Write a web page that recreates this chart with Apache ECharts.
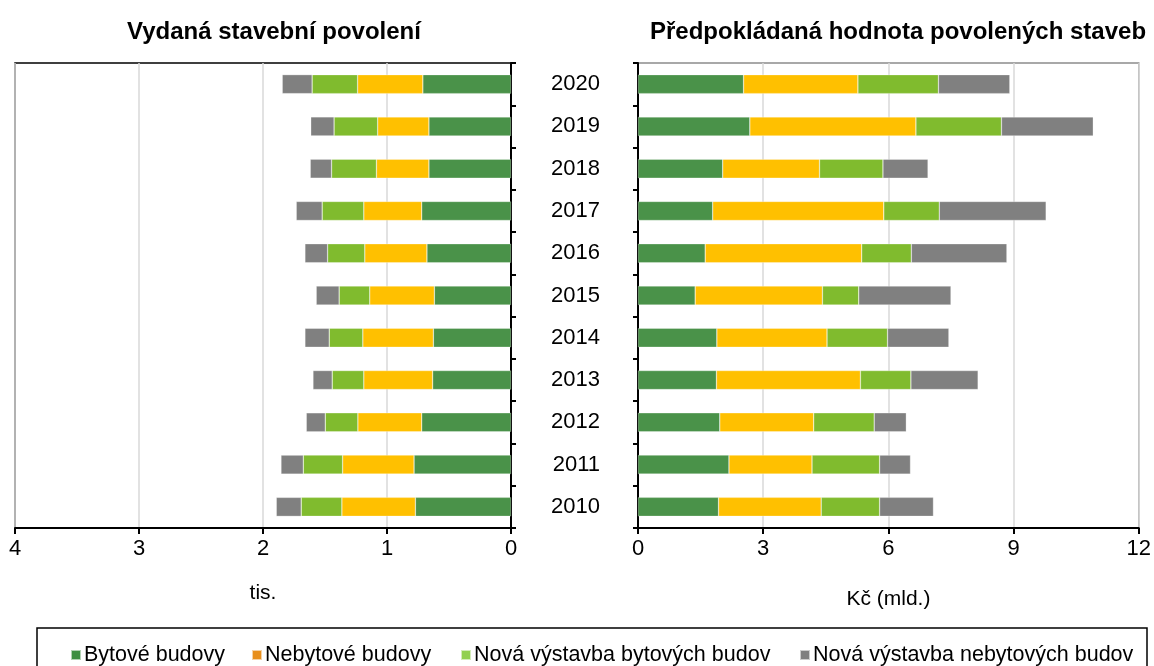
<!DOCTYPE html>
<html>
<head>
<meta charset="utf-8">
<script src="https://cdn.jsdelivr.net/npm/echarts@6/dist/echarts.min.js"></script>
<style>
  html, body { margin: 0; padding: 0; background: #fff; }
  #chart { width: 1154px; height: 666px; }
</style>
</head>
<body>
<div id="chart"></div>
<script>
// roky 2010..2020 (zdola nahoru)
const years = ['2010', '2011', '2012', '2013', '2014', '2015', '2016', '2017', '2018', '2019', '2020']
const seriesNames = ['Bytové budovy', 'Nebytové budovy', 'Nová výstavba bytových budov', 'Nová výstavba nebytových budov']

// vydaná stavební povolení (tis.)
const bytovePovoleni = [0.771, 0.782, 0.720, 0.632, 0.626, 0.618, 0.678, 0.720, 0.662, 0.662, 0.711]
const nebytovePovoleni = [0.593, 0.576, 0.515, 0.555, 0.569, 0.521, 0.501, 0.467, 0.423, 0.413, 0.526]
const novaBytovaPovoleni = [0.328, 0.317, 0.263, 0.255, 0.271, 0.247, 0.300, 0.336, 0.362, 0.352, 0.367]
const novaNebytovaPovoleni = [0.201, 0.180, 0.153, 0.155, 0.196, 0.185, 0.183, 0.209, 0.172, 0.188, 0.241]

// předpokládaná hodnota (Kč mld.)
const bytoveHodnota = [1.93, 2.18, 1.96, 1.88, 1.89, 1.37, 1.61, 1.79, 2.03, 2.68, 2.53]
const nebytoveHodnota = [2.46, 1.99, 2.25, 3.45, 2.64, 3.05, 3.75, 4.10, 2.32, 3.98, 2.74]
const novaBytovaHodnota = [1.40, 1.62, 1.45, 1.21, 1.45, 0.87, 1.19, 1.33, 1.52, 2.05, 1.93]
const novaNebytovaHodnota = [1.29, 0.74, 0.77, 1.61, 1.47, 2.21, 2.29, 2.56, 1.08, 2.20, 1.71]

const leftTicks = [0, 4, 1]   // min, max, interval
const rightTicks = [0, 12, 3]

const barColors = ['#4a9249', '#ffc000', '#80bb2e', '#808080']
const legendColors = ['#3f8f42', '#e88f1c', '#92d050', '#808080']
const legendLeft = [65, 246, 455, 794]
const font = 'Liberation Sans, Arial, sans-serif'

let chartInstance = echarts.init(document.getElementById('chart'))

let makeBars = (data, idx, name) => ({
  name: name,
  type: 'bar',
  stack: 'panel' + idx,
  xAxisIndex: idx,
  yAxisIndex: idx,
  barWidth: 19,
  itemStyle: { color: barColors[seriesNames.indexOf(name)], borderColor: 'rgba(255,255,255,0.6)', borderWidth: 0.5 },
  emphasis: { disabled: true },
  data: data
})

const option = {
  animation: false,
  textStyle: { fontFamily: font },
  title: [
    {
      text: 'Vydaná stavební povolení',
      left: 269, top: 15, textAlign: 'center',
      textStyle: { fontSize: 24, fontWeight: 'bold', color: '#000', fontFamily: font }
    },
    {
      text: 'Předpokládaná hodnota povolených staveb',
      left: 893, top: 15, textAlign: 'center',
      textStyle: { fontSize: 24, fontWeight: 'bold', color: '#000', fontFamily: font }
    }
  ],
  grid: [
    { left: 15, right: 643, top: 63, bottom: 138, show: true, borderColor: '#000', borderWidth: 1.5 },
    { left: 638, right: 14, top: 63, bottom: 138, show: true, borderColor: '#8c8c8c', borderWidth: 1.5 }
  ],
  // každá položka legendy zvlášť, aby seděly pozice
  legend: seriesNames.map((n, i) => ({
    left: legendLeft[i],
    top: 639,
    itemWidth: 10,
    itemHeight: 10,
    icon: 'rect',
    selectedMode: false,
    textStyle: { fontSize: 21.5, color: '#000', fontFamily: font, padding: [0, 0, 0, -2] },
    data: [{ name: n, itemStyle: { color: legendColors[i] } }]
  })),
  graphic: [
    {
      type: 'rect',
      shape: { x: 37, y: 628, width: 1110, height: 50 },
      style: { fill: 'none', stroke: '#000', lineWidth: 1.5 },
      silent: true
    }
  ],
  xAxis: [
    {
      gridIndex: 0, type: 'value', inverse: true,
      min: leftTicks[0], max: leftTicks[1], interval: leftTicks[2],
      name: 'tis.', nameLocation: 'middle', nameGap: 55,
      nameTextStyle: { fontSize: 21, color: '#000' },
      axisLine: { show: true, lineStyle: { color: '#000', width: 2 } },
      axisTick: { show: true, length: 6, lineStyle: { color: '#000', width: 2 } },
      axisLabel: { fontSize: 22, color: '#000', margin: 10 },
      splitLine: { show: true, lineStyle: { color: '#d9d9d9', width: 1.5 } }
    },
    {
      gridIndex: 1, type: 'value',
      min: rightTicks[0], max: rightTicks[1], interval: rightTicks[2],
      name: 'Kč (mld.)', nameLocation: 'middle', nameGap: 61,
      nameTextStyle: { fontSize: 21, color: '#000' },
      axisLine: { show: true, lineStyle: { color: '#000', width: 2 } },
      axisTick: { show: true, length: 6, lineStyle: { color: '#000', width: 2 } },
      axisLabel: { fontSize: 22, color: '#000', margin: 10 },
      splitLine: { show: true, lineStyle: { color: '#d9d9d9', width: 1.5 } }
    }
  ],
  yAxis: [
    {
      gridIndex: 0, type: 'category', position: 'right', data: years,
      axisLine: { show: true, lineStyle: { color: '#000', width: 2 } },
      axisTick: { show: true, length: 5, lineStyle: { color: '#000', width: 2 } },
      axisLabel: { show: false },
      splitLine: { show: false }
    },
    {
      gridIndex: 1, type: 'category', position: 'left', data: years,
      axisLine: { show: true, lineStyle: { color: '#000', width: 2 } },
      axisTick: { show: true, length: 5, lineStyle: { color: '#000', width: 2 } },
      axisLabel: { fontSize: 22, color: '#000', margin: 38 },
      splitLine: { show: false }
    }
  ],
  series: [
    makeBars(bytovePovoleni, 0, seriesNames[0]),
    makeBars(nebytovePovoleni, 0, seriesNames[1]),
    makeBars(novaBytovaPovoleni, 0, seriesNames[2]),
    makeBars(novaNebytovaPovoleni, 0, seriesNames[3]),
    makeBars(bytoveHodnota, 1, seriesNames[0]),
    makeBars(nebytoveHodnota, 1, seriesNames[1]),
    makeBars(novaBytovaHodnota, 1, seriesNames[2]),
    makeBars(novaNebytovaHodnota, 1, seriesNames[3])
  ]
}

chartInstance.setOption(option)
</script>
</body>
</html>
